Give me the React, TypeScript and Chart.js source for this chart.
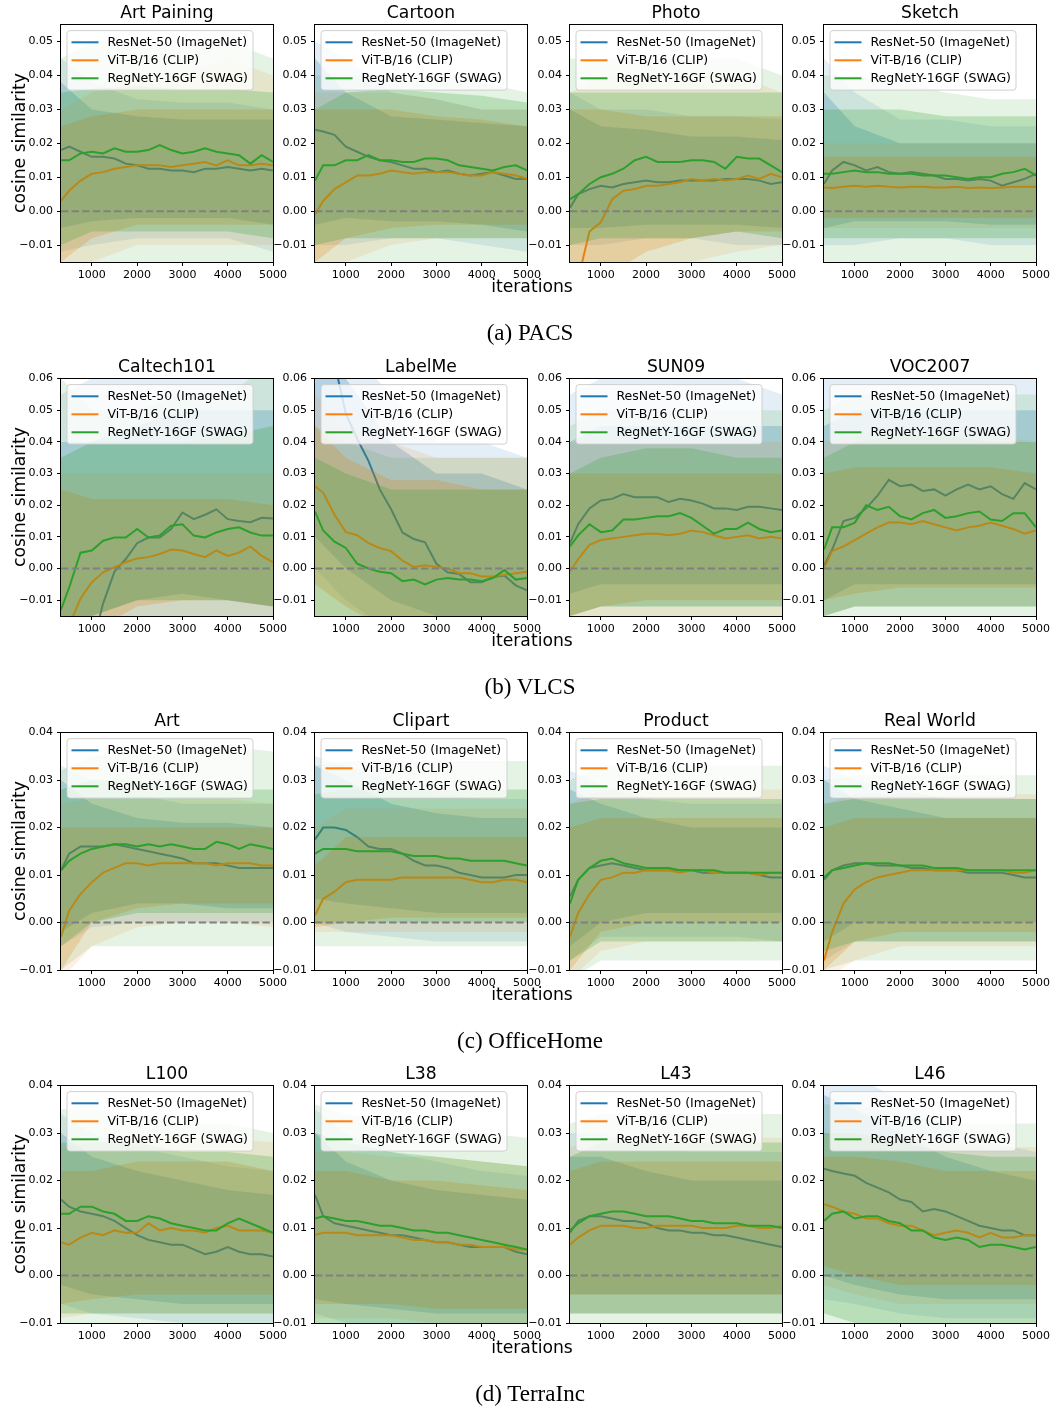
import React, { useEffect, useRef } from 'react';
import { Chart, registerables } from 'chart.js';

Chart.register(...registerables);

// ---------- shared axes / labels ----------
const X_SMOOTH = [320, 500, 750, 1000, 1250, 1500, 1750, 2000, 2250, 2500, 2750, 3000, 3250, 3500, 3750, 4000, 4250, 4500, 4750, 5000];
const X_BAND = [320, 1000, 2000, 3000, 4000, 5000];
const X_TICKS = [1000, 2000, 3000, 4000, 5000];
const X_MIN = 320;
const X_MAX = 5000;
const SERIES_NAMES = ['ResNet-50 (ImageNet)', 'ViT-B/16 (CLIP)', 'RegNetY-16GF (SWAG)'];
const SERIES_COLORS = ['#1f77b4', '#ff7f0e', '#2ca02c'];
const SERIES_CORE_FILLS = ['rgba(31,119,180,0.24)', 'rgba(255,127,14,0.24)', 'rgba(44,160,44,0.24)'];
const SERIES_SPIKE_FILLS = ['rgba(31,119,180,0.12)', 'rgba(255,127,14,0.12)', 'rgba(44,160,44,0.12)'];
const ROW_CAPTIONS = ['(a) PACS', '(b) VLCS', '(c) OfficeHome', '(d) TerraInc'];
const ROW_Y_RANGE = [[-0.015, 0.055], [-0.015, 0.06], [-0.01, 0.04], [-0.01, 0.04]];
const ROW_Y_TICKS = [
  [-0.01, 0, 0.01, 0.02, 0.03, 0.04, 0.05],
  [-0.01, 0, 0.01, 0.02, 0.03, 0.04, 0.05, 0.06],
  [-0.01, 0, 0.01, 0.02, 0.03, 0.04],
  [-0.01, 0, 0.01, 0.02, 0.03, 0.04],
];
const Y_LABEL = 'cosine similarity';
const X_LABEL = 'iterations';

// Each panel: smoothed curves (on X_SMOOTH) and noise envelopes (on X_BAND):
// *Lo/*Hi = dense core of the raw noise, *OutLo/*OutHi = extent of the sparse spikes.

// ---------- (a) PACS ----------
const artPainingRes = [0.018, 0.019, 0.0175, 0.016, 0.016, 0.0155, 0.014, 0.0135, 0.0125, 0.0125, 0.012, 0.012, 0.0115, 0.0125, 0.0125, 0.013, 0.0125, 0.012, 0.0125, 0.012];
const artPainingVit = [0.003, 0.006, 0.009, 0.011, 0.0115, 0.0125, 0.013, 0.0135, 0.0135, 0.0135, 0.013, 0.0135, 0.014, 0.0145, 0.0135, 0.015, 0.0135, 0.0135, 0.014, 0.0135];
const artPainingReg = [0.015, 0.015, 0.017, 0.0175, 0.017, 0.0185, 0.0175, 0.0175, 0.018, 0.0195, 0.018, 0.017, 0.0175, 0.0185, 0.0175, 0.017, 0.0165, 0.014, 0.0165, 0.0145];
const artPainingResLo = [-0.005, -0.003, -0.002, -0.002, -0.002, -0.004];
const artPainingResHi = [0.038, 0.03, 0.028, 0.027, 0.027, 0.027];
const artPainingVitLo = [-0.015, -0.008, -0.004, -0.004, -0.004, -0.004];
const artPainingVitHi = [0.025, 0.028, 0.03, 0.03, 0.03, 0.03];
const artPainingRegLo = [-0.01, -0.006, -0.006, -0.006, -0.006, -0.008];
const artPainingRegHi = [0.035, 0.036, 0.037, 0.036, 0.036, 0.035];
const artPainingResOutLo = [-0.012, -0.01, -0.008, -0.008, -0.008, -0.012];
const artPainingResOutHi = [0.045, 0.038, 0.033, 0.032, 0.032, 0.03];
const artPainingVitOutLo = [-0.02, -0.015, -0.01, -0.01, -0.01, -0.01];
const artPainingVitOutHi = [0.03, 0.035, 0.04, 0.04, 0.045, 0.04];
const artPainingRegOutLo = [-0.02, -0.015, -0.015, -0.015, -0.015, -0.015];
const artPainingRegOutHi = [0.045, 0.05, 0.05, 0.05, 0.05, 0.045];

const cartoonRes = [0.024, 0.0235, 0.0225, 0.019, 0.0175, 0.016, 0.015, 0.0145, 0.0135, 0.0125, 0.0125, 0.0115, 0.012, 0.011, 0.0105, 0.011, 0.0115, 0.0105, 0.0095, 0.0095];
const cartoonVit = [-0.001, 0.003, 0.0065, 0.0085, 0.0105, 0.0105, 0.011, 0.012, 0.0115, 0.011, 0.0115, 0.0115, 0.0115, 0.011, 0.0105, 0.0105, 0.0115, 0.011, 0.0105, 0.0095];
const cartoonReg = [0.009, 0.0135, 0.0135, 0.015, 0.015, 0.0165, 0.015, 0.015, 0.0145, 0.0145, 0.0155, 0.0155, 0.015, 0.0135, 0.013, 0.0125, 0.012, 0.013, 0.0135, 0.012];
const cartoonResLo = [-0.004, -0.002, -0.003, -0.003, -0.004, -0.006];
const cartoonResHi = [0.045, 0.035, 0.028, 0.027, 0.026, 0.025];
const cartoonVitLo = [-0.015, -0.008, -0.005, -0.004, -0.004, -0.004];
const cartoonVitHi = [0.03, 0.03, 0.03, 0.028, 0.027, 0.025];
const cartoonRegLo = [-0.01, -0.008, -0.008, -0.008, -0.008, -0.008];
const cartoonRegHi = [0.03, 0.035, 0.036, 0.035, 0.034, 0.032];
const cartoonResOutLo = [-0.01, -0.01, -0.008, -0.008, -0.01, -0.012];
const cartoonResOutHi = [0.05, 0.045, 0.035, 0.033, 0.03, 0.03];
const cartoonVitOutLo = [-0.02, -0.015, -0.01, -0.008, -0.008, -0.008];
const cartoonVitOutHi = [0.035, 0.035, 0.035, 0.033, 0.03, 0.03];
const cartoonRegOutLo = [-0.02, -0.015, -0.015, -0.015, -0.015, -0.015];
const cartoonRegOutHi = [0.04, 0.04, 0.04, 0.04, 0.038, 0.035];

const photoRes = [0.001, 0.005, 0.0065, 0.0075, 0.007, 0.008, 0.0085, 0.009, 0.0085, 0.0085, 0.009, 0.009, 0.009, 0.009, 0.0095, 0.0095, 0.0095, 0.009, 0.008, 0.0085];
const photoVit = [-0.03, -0.02, -0.006, -0.0033, 0.0035, 0.006, 0.0065, 0.0075, 0.0075, 0.008, 0.0085, 0.0095, 0.009, 0.0095, 0.009, 0.0095, 0.0105, 0.0095, 0.011, 0.01];
const photoReg = [0.0035, 0.005, 0.008, 0.01, 0.011, 0.0125, 0.015, 0.016, 0.0145, 0.0145, 0.0145, 0.015, 0.015, 0.0145, 0.0125, 0.016, 0.0155, 0.0155, 0.0135, 0.0115];
const photoResLo = [-0.005, -0.005, -0.004, -0.004, -0.004, -0.005];
const photoResHi = [0.03, 0.025, 0.024, 0.022, 0.022, 0.021];
const photoVitLo = [-0.03, -0.02, -0.012, -0.008, -0.006, -0.006];
const photoVitHi = [0.03, 0.03, 0.028, 0.028, 0.028, 0.028];
const photoRegLo = [-0.01, -0.008, -0.008, -0.008, -0.006, -0.008];
const photoRegHi = [0.035, 0.035, 0.035, 0.035, 0.035, 0.035];
const photoResOutLo = [-0.01, -0.01, -0.008, -0.008, -0.01, -0.01];
const photoResOutHi = [0.035, 0.03, 0.03, 0.028, 0.028, 0.027];
const photoVitOutLo = [-0.03, -0.03, -0.02, -0.015, -0.012, -0.01];
const photoVitOutHi = [0.035, 0.04, 0.04, 0.04, 0.04, 0.035];
const photoRegOutLo = [-0.02, -0.015, -0.015, -0.015, -0.015, -0.015];
const photoRegOutHi = [0.045, 0.045, 0.045, 0.045, 0.045, 0.04];

const sketchRes = [0.008, 0.012, 0.0145, 0.0135, 0.012, 0.013, 0.0115, 0.011, 0.0115, 0.011, 0.0105, 0.0095, 0.0095, 0.009, 0.0095, 0.009, 0.0075, 0.0085, 0.0095, 0.011];
const sketchVit = [0.007, 0.0068, 0.0072, 0.0075, 0.0072, 0.0075, 0.0072, 0.007, 0.0072, 0.0072, 0.007, 0.007, 0.0072, 0.0068, 0.007, 0.0068, 0.007, 0.0072, 0.0072, 0.0072];
const sketchReg = [0.011, 0.011, 0.0115, 0.012, 0.0115, 0.0115, 0.011, 0.011, 0.011, 0.0105, 0.0105, 0.0105, 0.01, 0.0095, 0.01, 0.01, 0.011, 0.0115, 0.0125, 0.0105];
const sketchResLo = [-0.005, -0.003, -0.003, -0.003, -0.004, -0.004];
const sketchResHi = [0.035, 0.025, 0.02, 0.02, 0.02, 0.02];
const sketchVitLo = [-0.002, -0.002, -0.002, -0.002, -0.002, -0.002];
const sketchVitHi = [0.016, 0.016, 0.016, 0.016, 0.016, 0.016];
const sketchRegLo = [-0.008, -0.008, -0.008, -0.008, -0.008, -0.008];
const sketchRegHi = [0.03, 0.03, 0.03, 0.028, 0.028, 0.028];
const sketchResOutLo = [-0.01, -0.01, -0.008, -0.008, -0.01, -0.01];
const sketchResOutHi = [0.045, 0.035, 0.027, 0.027, 0.025, 0.025];
const sketchVitOutLo = [-0.005, -0.005, -0.005, -0.005, -0.005, -0.005];
const sketchVitOutHi = [0.02, 0.02, 0.02, 0.02, 0.02, 0.02];
const sketchRegOutLo = [-0.015, -0.015, -0.015, -0.015, -0.015, -0.015];
const sketchRegOutHi = [0.04, 0.04, 0.038, 0.035, 0.033, 0.033];

// ---------- (b) VLCS ----------
const caltechRes = [-0.06, -0.05, -0.038, -0.025, -0.011, -0.001, 0.003, 0.008, 0.0098, 0.0098, 0.0125, 0.0177, 0.0156, 0.017, 0.0187, 0.0156, 0.015, 0.0146, 0.016, 0.0158];
const caltechVit = [-0.025, -0.018, -0.0095, -0.0043, -0.0012, 0.0004, 0.002, 0.0032, 0.0036, 0.0046, 0.006, 0.0057, 0.0046, 0.0036, 0.0057, 0.004, 0.005, 0.007, 0.004, 0.002];
const caltechReg = [-0.013, -0.006, 0.005, 0.0057, 0.0088, 0.0098, 0.0098, 0.0125, 0.0098, 0.0104, 0.0135, 0.014, 0.0104, 0.0098, 0.0114, 0.0125, 0.013, 0.0114, 0.0104, 0.0104];
const caltechResLo = [-0.02, -0.015, -0.01, -0.008, -0.01, -0.012];
const caltechResHi = [0.04, 0.04, 0.045, 0.05, 0.05, 0.05];
const caltechVitLo = [-0.03, -0.02, -0.012, -0.01, -0.01, -0.012];
const caltechVitHi = [0.025, 0.022, 0.022, 0.022, 0.022, 0.02];
const caltechRegLo = [-0.03, -0.015, -0.01, -0.01, -0.01, -0.012];
const caltechRegHi = [0.035, 0.04, 0.04, 0.04, 0.042, 0.045];
const caltechResOutLo = [-0.02, -0.02, -0.015, -0.015, -0.015, -0.015];
const caltechResOutHi = [0.055, 0.06, 0.06, 0.065, 0.065, 0.065];
const caltechVitOutLo = [-0.03, -0.025, -0.02, -0.02, -0.02, -0.02];
const caltechVitOutHi = [0.03, 0.03, 0.03, 0.03, 0.03, 0.03];
const caltechRegOutLo = [-0.03, -0.02, -0.015, -0.015, -0.015, -0.015];
const caltechRegOutHi = [0.06, 0.05, 0.05, 0.055, 0.055, 0.065];

const labelmeRes = [0.08, 0.075, 0.065, 0.049, 0.041, 0.034, 0.025, 0.0187, 0.0114, 0.0093, 0.0083, 0.0015, -0.0012, -0.0017, -0.0043, -0.0043, -0.0027, -0.0022, -0.0053, -0.0069];
const labelmeVit = [0.026, 0.024, 0.017, 0.0115, 0.0105, 0.008, 0.0065, 0.0055, 0.0025, 0.0005, 0.001, 0.0005, 0.0, -0.0015, -0.0015, -0.0025, -0.0025, -0.002, -0.0015, -0.001];
const labelmeReg = [0.018, 0.012, 0.0085, 0.0065, 0.0015, 0.0, -0.001, -0.0015, -0.004, -0.0035, -0.005, -0.0035, -0.003, -0.0035, -0.0035, -0.004, -0.003, -0.0005, -0.0035, -0.003];
const labelmeResLo = [0.01, 0.0, -0.01, -0.015, -0.02, -0.02];
const labelmeResHi = [0.065, 0.06, 0.04, 0.03, 0.03, 0.025];
const labelmeVitLo = [-0.005, -0.012, -0.02, -0.02, -0.02, -0.02];
const labelmeVitHi = [0.045, 0.035, 0.028, 0.028, 0.025, 0.025];
const labelmeRegLo = [-0.02, -0.02, -0.02, -0.02, -0.02, -0.02];
const labelmeRegHi = [0.035, 0.03, 0.025, 0.025, 0.025, 0.025];
const labelmeResOutLo = [0.0, -0.01, -0.02, -0.02, -0.02, -0.02];
const labelmeResOutHi = [0.08, 0.07, 0.055, 0.04, 0.04, 0.035];
const labelmeVitOutLo = [-0.015, -0.02, -0.02, -0.02, -0.02, -0.02];
const labelmeVitOutHi = [0.055, 0.045, 0.04, 0.035, 0.035, 0.035];
const labelmeRegOutLo = [-0.02, -0.02, -0.02, -0.02, -0.02, -0.02];
const labelmeRegOutHi = [0.045, 0.04, 0.035, 0.035, 0.035, 0.035];

const sun09Res = [0.008, 0.014, 0.019, 0.0215, 0.022, 0.0235, 0.0225, 0.0225, 0.0225, 0.021, 0.022, 0.0215, 0.0205, 0.019, 0.019, 0.0185, 0.0195, 0.0195, 0.019, 0.0185];
const sun09Vit = [-0.001, 0.003, 0.0075, 0.009, 0.0095, 0.01, 0.0105, 0.011, 0.011, 0.0105, 0.011, 0.012, 0.0115, 0.0105, 0.0095, 0.01, 0.0105, 0.0095, 0.01, 0.0095];
const sun09Reg = [0.007, 0.0105, 0.014, 0.0115, 0.012, 0.0155, 0.0155, 0.016, 0.0165, 0.0165, 0.0175, 0.016, 0.0135, 0.011, 0.0125, 0.0125, 0.0145, 0.0125, 0.0115, 0.012];
const sun09ResLo = [-0.008, -0.005, -0.005, -0.005, -0.005, -0.005];
const sun09ResHi = [0.04, 0.045, 0.045, 0.045, 0.045, 0.045];
const sun09VitLo = [-0.015, -0.012, -0.01, -0.01, -0.01, -0.01];
const sun09VitHi = [0.03, 0.03, 0.03, 0.03, 0.03, 0.03];
const sun09RegLo = [-0.015, -0.012, -0.012, -0.012, -0.012, -0.012];
const sun09RegHi = [0.03, 0.035, 0.038, 0.038, 0.035, 0.035];
const sun09ResOutLo = [-0.015, -0.012, -0.012, -0.012, -0.012, -0.012];
const sun09ResOutHi = [0.055, 0.06, 0.06, 0.06, 0.06, 0.055];
const sun09VitOutLo = [-0.02, -0.018, -0.015, -0.015, -0.015, -0.015];
const sun09VitOutHi = [0.04, 0.04, 0.04, 0.04, 0.04, 0.04];
const sun09RegOutLo = [-0.02, -0.02, -0.02, -0.02, -0.02, -0.02];
const sun09RegOutHi = [0.045, 0.05, 0.05, 0.05, 0.05, 0.05];

const voc2007Res = [0.001, 0.006, 0.015, 0.016, 0.019, 0.023, 0.028, 0.026, 0.0265, 0.0245, 0.025, 0.023, 0.025, 0.0265, 0.025, 0.026, 0.0235, 0.022, 0.027, 0.025];
const voc2007Vit = [0.0, 0.0055, 0.007, 0.009, 0.011, 0.013, 0.0145, 0.0145, 0.014, 0.015, 0.014, 0.013, 0.012, 0.013, 0.0135, 0.0145, 0.0135, 0.0125, 0.011, 0.012];
const voc2007Reg = [0.006, 0.013, 0.013, 0.0145, 0.02, 0.0185, 0.0195, 0.0165, 0.0155, 0.0175, 0.0185, 0.016, 0.0165, 0.0175, 0.018, 0.0155, 0.015, 0.0175, 0.0175, 0.013];
const voc2007ResLo = [-0.01, -0.005, -0.005, -0.005, -0.005, -0.005];
const voc2007ResHi = [0.045, 0.05, 0.05, 0.05, 0.05, 0.05];
const voc2007VitLo = [-0.01, -0.008, -0.006, -0.006, -0.006, -0.006];
const voc2007VitHi = [0.03, 0.032, 0.032, 0.032, 0.032, 0.03];
const voc2007RegLo = [-0.015, -0.012, -0.012, -0.012, -0.012, -0.012];
const voc2007RegHi = [0.035, 0.04, 0.042, 0.042, 0.04, 0.04];
const voc2007ResOutLo = [-0.015, -0.012, -0.012, -0.012, -0.012, -0.012];
const voc2007ResOutHi = [0.065, 0.065, 0.065, 0.065, 0.065, 0.065];
const voc2007VitOutLo = [-0.015, -0.012, -0.012, -0.012, -0.012, -0.012];
const voc2007VitOutHi = [0.04, 0.042, 0.042, 0.042, 0.042, 0.04];
const voc2007RegOutLo = [-0.02, -0.02, -0.02, -0.02, -0.02, -0.02];
const voc2007RegOutHi = [0.05, 0.055, 0.055, 0.055, 0.055, 0.055];

// ---------- (c) OfficeHome ----------
const artRes = [0.011, 0.0145, 0.016, 0.016, 0.016, 0.0165, 0.016, 0.0155, 0.015, 0.0145, 0.014, 0.0135, 0.0125, 0.0125, 0.0125, 0.012, 0.0115, 0.0115, 0.0115, 0.0115];
const artVit = [-0.003, 0.0025, 0.006, 0.0085, 0.0105, 0.0115, 0.0125, 0.0125, 0.012, 0.0125, 0.0125, 0.0125, 0.0125, 0.0125, 0.012, 0.0125, 0.0125, 0.0125, 0.012, 0.012];
const artReg = [0.011, 0.013, 0.0145, 0.0155, 0.016, 0.0165, 0.0165, 0.016, 0.0165, 0.016, 0.0165, 0.016, 0.0155, 0.0155, 0.017, 0.0165, 0.0155, 0.0165, 0.016, 0.0155];
const artResLo = [-0.002, 0.002, 0.004, 0.004, 0.003, 0.003];
const artResHi = [0.03, 0.025, 0.022, 0.021, 0.021, 0.02];
const artVitLo = [-0.01, 0.0, 0.003, 0.004, 0.004, 0.004];
const artVitHi = [0.02, 0.02, 0.02, 0.02, 0.02, 0.02];
const artRegLo = [-0.005, 0.0, 0.002, 0.002, 0.002, 0.002];
const artRegHi = [0.028, 0.03, 0.03, 0.028, 0.028, 0.028];
const artResOutLo = [-0.005, -0.001, 0.0, 0.0, 0.0, 0.0];
const artResOutHi = [0.033, 0.03, 0.027, 0.025, 0.025, 0.025];
const artVitOutLo = [-0.012, -0.005, -0.001, 0.0, 0.0, -0.001];
const artVitOutHi = [0.025, 0.026, 0.026, 0.026, 0.026, 0.025];
const artRegOutLo = [-0.01, -0.005, -0.005, -0.005, -0.005, -0.005];
const artRegOutHi = [0.032, 0.035, 0.036, 0.037, 0.037, 0.036];

const clipartRes = [0.0175, 0.02, 0.02, 0.0195, 0.018, 0.016, 0.0155, 0.0155, 0.0145, 0.013, 0.012, 0.012, 0.0115, 0.0105, 0.01, 0.0095, 0.0095, 0.0095, 0.01, 0.01];
const clipartVit = [0.0015, 0.005, 0.0065, 0.0085, 0.009, 0.009, 0.009, 0.009, 0.0095, 0.0095, 0.0095, 0.0095, 0.0095, 0.0095, 0.009, 0.0085, 0.0085, 0.009, 0.009, 0.0085];
const clipartReg = [0.0145, 0.0155, 0.0155, 0.0155, 0.015, 0.015, 0.015, 0.015, 0.0145, 0.014, 0.014, 0.014, 0.0135, 0.0135, 0.013, 0.013, 0.013, 0.013, 0.0125, 0.012];
const clipartResLo = [0.005, 0.004, 0.003, 0.002, 0.002, 0.002];
const clipartResHi = [0.033, 0.03, 0.025, 0.023, 0.022, 0.022];
const clipartVitLo = [-0.001, 0.0, 0.001, 0.001, 0.001, 0.001];
const clipartVitHi = [0.012, 0.018, 0.018, 0.018, 0.018, 0.018];
const clipartRegLo = [0.0, 0.0, 0.0, 0.0, 0.0, 0.0];
const clipartRegHi = [0.027, 0.028, 0.028, 0.028, 0.028, 0.028];
const clipartResOutLo = [0.0, -0.002, -0.003, -0.004, -0.004, -0.004];
const clipartResOutHi = [0.035, 0.033, 0.03, 0.027, 0.026, 0.026];
const clipartVitOutLo = [-0.002, -0.002, -0.002, -0.002, -0.002, -0.002];
const clipartVitOutHi = [0.02, 0.024, 0.024, 0.024, 0.024, 0.024];
const clipartRegOutLo = [-0.005, -0.005, -0.005, -0.005, -0.005, -0.005];
const clipartRegOutHi = [0.033, 0.034, 0.034, 0.034, 0.034, 0.034];

const productRes = [0.0055, 0.009, 0.0115, 0.012, 0.0125, 0.012, 0.0115, 0.011, 0.011, 0.011, 0.011, 0.011, 0.0105, 0.0105, 0.0105, 0.0105, 0.0105, 0.01, 0.0095, 0.0095];
const productVit = [-0.003, 0.002, 0.006, 0.009, 0.0095, 0.0105, 0.0105, 0.011, 0.011, 0.011, 0.0105, 0.011, 0.011, 0.0105, 0.0105, 0.0105, 0.0105, 0.01, 0.0105, 0.0105];
const productReg = [0.004, 0.009, 0.0115, 0.013, 0.0135, 0.0125, 0.012, 0.0115, 0.0115, 0.0115, 0.011, 0.011, 0.011, 0.011, 0.0105, 0.0105, 0.0105, 0.0105, 0.0105, 0.0105];
const productResLo = [-0.005, 0.0, 0.002, 0.002, 0.002, 0.002];
const productResHi = [0.028, 0.025, 0.022, 0.02, 0.02, 0.02];
const productVitLo = [-0.01, -0.002, 0.0, 0.0, 0.0, 0.0];
const productVitHi = [0.02, 0.022, 0.022, 0.022, 0.022, 0.022];
const productRegLo = [-0.008, -0.004, -0.004, -0.004, -0.004, -0.004];
const productRegHi = [0.025, 0.026, 0.026, 0.026, 0.026, 0.026];
const productResOutLo = [-0.008, -0.003, -0.003, -0.003, -0.003, -0.004];
const productResOutHi = [0.032, 0.029, 0.026, 0.025, 0.025, 0.025];
const productVitOutLo = [-0.012, -0.006, -0.004, -0.004, -0.004, -0.004];
const productVitOutHi = [0.025, 0.028, 0.028, 0.028, 0.028, 0.028];
const productRegOutLo = [-0.012, -0.008, -0.008, -0.008, -0.008, -0.008];
const productRegOutHi = [0.03, 0.033, 0.033, 0.033, 0.033, 0.033];

const realWorldRes = [0.009, 0.011, 0.012, 0.0125, 0.0125, 0.012, 0.012, 0.012, 0.0115, 0.0115, 0.011, 0.011, 0.011, 0.0105, 0.0105, 0.0105, 0.0105, 0.01, 0.0095, 0.0095];
const realWorldVit = [-0.008, -0.002, 0.004, 0.007, 0.0085, 0.0095, 0.01, 0.0105, 0.011, 0.011, 0.011, 0.011, 0.011, 0.011, 0.011, 0.011, 0.011, 0.0105, 0.0105, 0.011];
const realWorldReg = [0.0095, 0.011, 0.0115, 0.012, 0.0125, 0.0125, 0.0125, 0.012, 0.012, 0.012, 0.0115, 0.0115, 0.0115, 0.011, 0.011, 0.011, 0.011, 0.011, 0.011, 0.011];
const realWorldResLo = [-0.004, 0.0, 0.0, 0.0, 0.0, 0.0];
const realWorldResHi = [0.03, 0.026, 0.024, 0.022, 0.022, 0.022];
const realWorldVitLo = [-0.01, -0.004, -0.002, -0.002, -0.002, -0.002];
const realWorldVitHi = [0.02, 0.022, 0.022, 0.022, 0.022, 0.022];
const realWorldRegLo = [-0.006, -0.004, -0.004, -0.004, -0.004, -0.004];
const realWorldRegHi = [0.025, 0.026, 0.026, 0.026, 0.026, 0.026];
const realWorldResOutLo = [-0.008, -0.004, -0.004, -0.004, -0.004, -0.004];
const realWorldResOutHi = [0.033, 0.03, 0.028, 0.026, 0.026, 0.026];
const realWorldVitOutLo = [-0.012, -0.008, -0.005, -0.005, -0.005, -0.005];
const realWorldVitOutHi = [0.025, 0.027, 0.027, 0.027, 0.027, 0.027];
const realWorldRegOutLo = [-0.01, -0.008, -0.008, -0.008, -0.008, -0.008];
const realWorldRegOutHi = [0.03, 0.031, 0.031, 0.031, 0.031, 0.031];

// ---------- (d) TerraInc ----------
const l100Res = [0.016, 0.0145, 0.0135, 0.013, 0.0125, 0.0115, 0.01, 0.0085, 0.0075, 0.007, 0.0065, 0.0065, 0.0055, 0.0045, 0.005, 0.006, 0.005, 0.0045, 0.0045, 0.004];
const l100Vit = [0.007, 0.0065, 0.008, 0.009, 0.0085, 0.0095, 0.009, 0.009, 0.011, 0.0095, 0.01, 0.0095, 0.0095, 0.009, 0.01, 0.0105, 0.0095, 0.0095, 0.0095, 0.009];
const l100Reg = [0.013, 0.013, 0.0145, 0.0145, 0.0135, 0.013, 0.0115, 0.0115, 0.0125, 0.012, 0.011, 0.0105, 0.01, 0.0095, 0.0095, 0.011, 0.012, 0.011, 0.01, 0.009];
const l100ResLo = [-0.002, -0.004, -0.005, -0.006, -0.006, -0.006];
const l100ResHi = [0.03, 0.025, 0.022, 0.02, 0.018, 0.017];
const l100VitLo = [-0.006, -0.005, -0.004, -0.004, -0.004, -0.004];
const l100VitHi = [0.022, 0.022, 0.024, 0.024, 0.024, 0.022];
const l100RegLo = [-0.008, -0.008, -0.008, -0.008, -0.008, -0.008];
const l100RegHi = [0.028, 0.028, 0.028, 0.026, 0.026, 0.025];
const l100ResOutLo = [-0.006, -0.008, -0.009, -0.01, -0.01, -0.01];
const l100ResOutHi = [0.034, 0.03, 0.027, 0.025, 0.023, 0.022];
const l100VitOutLo = [-0.009, -0.008, -0.008, -0.008, -0.008, -0.008];
const l100VitOutHi = [0.027, 0.028, 0.029, 0.029, 0.029, 0.028];
const l100RegOutLo = [-0.012, -0.012, -0.012, -0.012, -0.012, -0.012];
const l100RegOutHi = [0.035, 0.035, 0.034, 0.032, 0.032, 0.03];

const l38Res = [0.017, 0.0125, 0.011, 0.0105, 0.01, 0.0095, 0.009, 0.0085, 0.0085, 0.008, 0.0075, 0.007, 0.007, 0.0065, 0.006, 0.006, 0.006, 0.006, 0.005, 0.0045];
const l38Vit = [0.0085, 0.009, 0.009, 0.009, 0.0085, 0.0085, 0.0085, 0.0085, 0.008, 0.0075, 0.0075, 0.007, 0.007, 0.0065, 0.0065, 0.006, 0.006, 0.006, 0.0055, 0.0055];
const l38Reg = [0.012, 0.0125, 0.012, 0.0115, 0.0115, 0.011, 0.0105, 0.0105, 0.01, 0.0095, 0.0095, 0.009, 0.009, 0.0085, 0.008, 0.0075, 0.007, 0.0065, 0.006, 0.0055];
const l38ResLo = [-0.005, -0.006, -0.007, -0.008, -0.008, -0.008];
const l38ResHi = [0.03, 0.024, 0.02, 0.018, 0.017, 0.016];
const l38VitLo = [-0.006, -0.006, -0.006, -0.007, -0.007, -0.007];
const l38VitHi = [0.022, 0.022, 0.02, 0.02, 0.019, 0.018];
const l38RegLo = [-0.01, -0.01, -0.01, -0.01, -0.01, -0.01];
const l38RegHi = [0.03, 0.028, 0.026, 0.025, 0.024, 0.023];
const l38ResOutLo = [-0.008, -0.01, -0.01, -0.011, -0.011, -0.011];
const l38ResOutHi = [0.035, 0.03, 0.026, 0.024, 0.022, 0.021];
const l38VitOutLo = [-0.009, -0.009, -0.009, -0.01, -0.01, -0.01];
const l38VitOutHi = [0.026, 0.026, 0.025, 0.025, 0.024, 0.023];
const l38RegOutLo = [-0.014, -0.014, -0.014, -0.014, -0.014, -0.014];
const l38RegOutHi = [0.036, 0.034, 0.032, 0.031, 0.03, 0.029];

const l43Res = [0.009, 0.0115, 0.0125, 0.0125, 0.012, 0.0115, 0.0115, 0.011, 0.01, 0.0095, 0.0095, 0.009, 0.009, 0.0085, 0.0085, 0.008, 0.0075, 0.007, 0.0065, 0.006];
const l43Vit = [0.0065, 0.008, 0.0095, 0.0105, 0.0105, 0.0105, 0.01, 0.01, 0.0105, 0.0105, 0.0105, 0.0105, 0.01, 0.01, 0.01, 0.0105, 0.0105, 0.01, 0.01, 0.0105];
const l43Reg = [0.0095, 0.011, 0.0125, 0.013, 0.0135, 0.0135, 0.013, 0.0125, 0.0125, 0.0125, 0.012, 0.0115, 0.0115, 0.011, 0.011, 0.011, 0.0105, 0.0105, 0.0105, 0.01];
const l43ResLo = [-0.004, -0.004, -0.004, -0.004, -0.004, -0.004];
const l43ResHi = [0.025, 0.025, 0.022, 0.02, 0.02, 0.02];
const l43VitLo = [-0.004, -0.004, -0.004, -0.004, -0.004, -0.004];
const l43VitHi = [0.022, 0.024, 0.024, 0.024, 0.024, 0.024];
const l43RegLo = [-0.008, -0.008, -0.008, -0.008, -0.008, -0.008];
const l43RegHi = [0.025, 0.028, 0.028, 0.028, 0.028, 0.028];
const l43ResOutLo = [-0.008, -0.008, -0.008, -0.008, -0.008, -0.008];
const l43ResOutHi = [0.03, 0.03, 0.028, 0.026, 0.026, 0.026];
const l43VitOutLo = [-0.008, -0.008, -0.008, -0.008, -0.008, -0.008];
const l43VitOutHi = [0.027, 0.029, 0.029, 0.029, 0.029, 0.029];
const l43RegOutLo = [-0.012, -0.012, -0.012, -0.012, -0.012, -0.012];
const l43RegOutHi = [0.032, 0.034, 0.034, 0.034, 0.034, 0.034];

const l46Res = [0.0225, 0.022, 0.0215, 0.021, 0.0195, 0.0185, 0.0175, 0.016, 0.0155, 0.0135, 0.014, 0.0135, 0.0125, 0.0115, 0.0105, 0.01, 0.0095, 0.0095, 0.0085, 0.0085];
const l46Vit = [0.015, 0.0145, 0.0135, 0.013, 0.012, 0.012, 0.011, 0.0105, 0.0105, 0.0095, 0.0085, 0.009, 0.0095, 0.009, 0.008, 0.009, 0.008, 0.008, 0.0085, 0.0085];
const l46Reg = [0.0115, 0.013, 0.0135, 0.012, 0.0125, 0.0125, 0.0115, 0.011, 0.0095, 0.0095, 0.008, 0.0075, 0.008, 0.0075, 0.006, 0.0065, 0.0065, 0.006, 0.0055, 0.006];
const l46ResLo = [0.0, -0.002, -0.004, -0.005, -0.005, -0.005];
const l46ResHi = [0.038, 0.035, 0.03, 0.025, 0.022, 0.02];
const l46VitLo = [0.002, 0.0, -0.002, -0.002, -0.002, -0.002];
const l46VitHi = [0.025, 0.025, 0.024, 0.022, 0.022, 0.022];
const l46RegLo = [-0.008, -0.01, -0.01, -0.01, -0.01, -0.01];
const l46RegHi = [0.03, 0.03, 0.028, 0.026, 0.025, 0.025];
const l46ResOutLo = [-0.005, -0.006, -0.008, -0.009, -0.009, -0.009];
const l46ResOutHi = [0.045, 0.042, 0.037, 0.032, 0.028, 0.026];
const l46VitOutLo = [-0.002, -0.004, -0.006, -0.006, -0.006, -0.006];
const l46VitOutHi = [0.03, 0.03, 0.029, 0.028, 0.027, 0.027];
const l46RegOutLo = [-0.012, -0.014, -0.014, -0.014, -0.014, -0.014];
const l46RegOutHi = [0.036, 0.036, 0.034, 0.032, 0.032, 0.032];

type PanelSpec = {
  title: string; row: number; col: number;
  lines: number[][]; los: number[][]; his: number[][]; outLos: number[][]; outHis: number[][];
};

const PANELS: PanelSpec[] = [
  { title: 'Art Paining', row: 0, col: 0, lines: [artPainingRes, artPainingVit, artPainingReg], los: [artPainingResLo, artPainingVitLo, artPainingRegLo], his: [artPainingResHi, artPainingVitHi, artPainingRegHi], outLos: [artPainingResOutLo, artPainingVitOutLo, artPainingRegOutLo], outHis: [artPainingResOutHi, artPainingVitOutHi, artPainingRegOutHi] },
  { title: 'Cartoon', row: 0, col: 1, lines: [cartoonRes, cartoonVit, cartoonReg], los: [cartoonResLo, cartoonVitLo, cartoonRegLo], his: [cartoonResHi, cartoonVitHi, cartoonRegHi], outLos: [cartoonResOutLo, cartoonVitOutLo, cartoonRegOutLo], outHis: [cartoonResOutHi, cartoonVitOutHi, cartoonRegOutHi] },
  { title: 'Photo', row: 0, col: 2, lines: [photoRes, photoVit, photoReg], los: [photoResLo, photoVitLo, photoRegLo], his: [photoResHi, photoVitHi, photoRegHi], outLos: [photoResOutLo, photoVitOutLo, photoRegOutLo], outHis: [photoResOutHi, photoVitOutHi, photoRegOutHi] },
  { title: 'Sketch', row: 0, col: 3, lines: [sketchRes, sketchVit, sketchReg], los: [sketchResLo, sketchVitLo, sketchRegLo], his: [sketchResHi, sketchVitHi, sketchRegHi], outLos: [sketchResOutLo, sketchVitOutLo, sketchRegOutLo], outHis: [sketchResOutHi, sketchVitOutHi, sketchRegOutHi] },
  { title: 'Caltech101', row: 1, col: 0, lines: [caltechRes, caltechVit, caltechReg], los: [caltechResLo, caltechVitLo, caltechRegLo], his: [caltechResHi, caltechVitHi, caltechRegHi], outLos: [caltechResOutLo, caltechVitOutLo, caltechRegOutLo], outHis: [caltechResOutHi, caltechVitOutHi, caltechRegOutHi] },
  { title: 'LabelMe', row: 1, col: 1, lines: [labelmeRes, labelmeVit, labelmeReg], los: [labelmeResLo, labelmeVitLo, labelmeRegLo], his: [labelmeResHi, labelmeVitHi, labelmeRegHi], outLos: [labelmeResOutLo, labelmeVitOutLo, labelmeRegOutLo], outHis: [labelmeResOutHi, labelmeVitOutHi, labelmeRegOutHi] },
  { title: 'SUN09', row: 1, col: 2, lines: [sun09Res, sun09Vit, sun09Reg], los: [sun09ResLo, sun09VitLo, sun09RegLo], his: [sun09ResHi, sun09VitHi, sun09RegHi], outLos: [sun09ResOutLo, sun09VitOutLo, sun09RegOutLo], outHis: [sun09ResOutHi, sun09VitOutHi, sun09RegOutHi] },
  { title: 'VOC2007', row: 1, col: 3, lines: [voc2007Res, voc2007Vit, voc2007Reg], los: [voc2007ResLo, voc2007VitLo, voc2007RegLo], his: [voc2007ResHi, voc2007VitHi, voc2007RegHi], outLos: [voc2007ResOutLo, voc2007VitOutLo, voc2007RegOutLo], outHis: [voc2007ResOutHi, voc2007VitOutHi, voc2007RegOutHi] },
  { title: 'Art', row: 2, col: 0, lines: [artRes, artVit, artReg], los: [artResLo, artVitLo, artRegLo], his: [artResHi, artVitHi, artRegHi], outLos: [artResOutLo, artVitOutLo, artRegOutLo], outHis: [artResOutHi, artVitOutHi, artRegOutHi] },
  { title: 'Clipart', row: 2, col: 1, lines: [clipartRes, clipartVit, clipartReg], los: [clipartResLo, clipartVitLo, clipartRegLo], his: [clipartResHi, clipartVitHi, clipartRegHi], outLos: [clipartResOutLo, clipartVitOutLo, clipartRegOutLo], outHis: [clipartResOutHi, clipartVitOutHi, clipartRegOutHi] },
  { title: 'Product', row: 2, col: 2, lines: [productRes, productVit, productReg], los: [productResLo, productVitLo, productRegLo], his: [productResHi, productVitHi, productRegHi], outLos: [productResOutLo, productVitOutLo, productRegOutLo], outHis: [productResOutHi, productVitOutHi, productRegOutHi] },
  { title: 'Real World', row: 2, col: 3, lines: [realWorldRes, realWorldVit, realWorldReg], los: [realWorldResLo, realWorldVitLo, realWorldRegLo], his: [realWorldResHi, realWorldVitHi, realWorldRegHi], outLos: [realWorldResOutLo, realWorldVitOutLo, realWorldRegOutLo], outHis: [realWorldResOutHi, realWorldVitOutHi, realWorldRegOutHi] },
  { title: 'L100', row: 3, col: 0, lines: [l100Res, l100Vit, l100Reg], los: [l100ResLo, l100VitLo, l100RegLo], his: [l100ResHi, l100VitHi, l100RegHi], outLos: [l100ResOutLo, l100VitOutLo, l100RegOutLo], outHis: [l100ResOutHi, l100VitOutHi, l100RegOutHi] },
  { title: 'L38', row: 3, col: 1, lines: [l38Res, l38Vit, l38Reg], los: [l38ResLo, l38VitLo, l38RegLo], his: [l38ResHi, l38VitHi, l38RegHi], outLos: [l38ResOutLo, l38VitOutLo, l38RegOutLo], outHis: [l38ResOutHi, l38VitOutHi, l38RegOutHi] },
  { title: 'L43', row: 3, col: 2, lines: [l43Res, l43Vit, l43Reg], los: [l43ResLo, l43VitLo, l43RegLo], his: [l43ResHi, l43VitHi, l43RegHi], outLos: [l43ResOutLo, l43VitOutLo, l43RegOutLo], outHis: [l43ResOutHi, l43VitOutHi, l43RegOutHi] },
  { title: 'L46', row: 3, col: 3, lines: [l46Res, l46Vit, l46Reg], los: [l46ResLo, l46VitLo, l46RegLo], his: [l46ResHi, l46VitHi, l46RegHi], outLos: [l46ResOutLo, l46VitOutLo, l46RegOutLo], outHis: [l46ResOutHi, l46VitOutHi, l46RegOutHi] },
];

// ---------- layout ----------
const FIG_W = 1052;
const FIG_H = 1407;
const COL_LEFT = [61, 315, 570, 824];
const ROW_TOP = [24, 378, 732, 1085];
const PLOT_W = 212;
const PLOT_H = 238;
const AXIS_W = 50;
const AXIS_H = 26;
const PAD_T = 10;
const PAD_R = 24;
const SANS = '"DejaVu Sans", sans-serif';
const SERIF = '"Liberation Serif", "Times New Roman", serif';

Chart.defaults.font.family = SANS;
Chart.defaults.color = '#000';

const fmtY = (v: number) => (v < -1e-9 ? '\u2212' : '') + Math.abs(v).toFixed(2);

const framePlugin = {
  id: 'mplFrame',
  afterDatasetsDraw(chart: any) {
    const { ctx, chartArea: a } = chart;
    ctx.save();
    ctx.strokeStyle = '#000';
    ctx.lineWidth = 1;
    const l = Math.round(a.left), t = Math.round(a.top);
    const r = Math.round(a.right), b = Math.round(a.bottom);
    ctx.strokeRect(l - 0.5, t - 0.5, r - l + 1, b - t + 1);
    ctx.restore();
  },
};

const legendPlugin = {
  id: 'mplLegend',
  afterDraw(chart: any) {
    const { ctx, chartArea: a } = chart;
    ctx.save();
    const x = a.left + 6, y = a.top + 6, w = 186, h = 59.5, r = 3;
    ctx.beginPath();
    ctx.moveTo(x + r, y);
    ctx.lineTo(x + w - r, y);
    ctx.quadraticCurveTo(x + w, y, x + w, y + r);
    ctx.lineTo(x + w, y + h - r);
    ctx.quadraticCurveTo(x + w, y + h, x + w - r, y + h);
    ctx.lineTo(x + r, y + h);
    ctx.quadraticCurveTo(x, y + h, x, y + h - r);
    ctx.lineTo(x, y + r);
    ctx.quadraticCurveTo(x, y, x + r, y);
    ctx.closePath();
    ctx.fillStyle = 'rgba(255,255,255,0.8)';
    ctx.fill();
    ctx.strokeStyle = 'rgba(204,204,204,0.9)';
    ctx.lineWidth = 1;
    ctx.stroke();
    ctx.font = '12.5px ' + SANS;
    ctx.textBaseline = 'middle';
    ctx.textAlign = 'left';
    SERIES_NAMES.forEach((name, i) => {
      const yy = a.top + 17.7 + i * 18;
      ctx.beginPath();
      ctx.moveTo(a.left + 10.5, yy);
      ctx.lineTo(a.left + 37.5, yy);
      ctx.strokeStyle = SERIES_COLORS[i];
      ctx.lineWidth = 2;
      ctx.stroke();
      ctx.fillStyle = '#000';
      ctx.fillText(name, a.left + 46.5, yy + 0.5);
    });
    ctx.restore();
  },
};

const bandPair = (lo: number[], hi: number[], fillColor: string, order: number, name: string) => [
  {
    label: name + ' lo',
    data: X_BAND.map((x, k) => ({ x, y: lo[k] })),
    borderColor: 'transparent', borderWidth: 0, pointRadius: 0, fill: false,
    order: order + 1, clip: 0,
  },
  {
    label: name + ' hi',
    data: X_BAND.map((x, k) => ({ x, y: hi[k] })),
    borderColor: 'transparent', borderWidth: 0, pointRadius: 0, fill: '-1',
    backgroundColor: fillColor, order, clip: 0,
  },
];

function Panel({ spec }: { spec: PanelSpec }) {
  const ref = useRef<HTMLCanvasElement>(null);
  const cw = AXIS_W + PLOT_W + PAD_R;
  const ch = PAD_T + PLOT_H + AXIS_H;
  useEffect(() => {
    if (!ref.current) return;
    const [ymin, ymax] = ROW_Y_RANGE[spec.row];
    const yTicks = ROW_Y_TICKS[spec.row];
    const datasets: any[] = [];
    for (let i = 0; i < 3; i++) {
      const base = 50 - i * 10; // higher order is painted first
      datasets.push(...bandPair(spec.outLos[i], spec.outHis[i], SERIES_SPIKE_FILLS[i], base - 1, SERIES_NAMES[i] + ' spikes'));
      datasets.push(...bandPair(spec.los[i], spec.his[i], SERIES_CORE_FILLS[i], base - 3, SERIES_NAMES[i] + ' core'));
      datasets.push({
        label: SERIES_NAMES[i],
        data: X_SMOOTH.map((x, k) => ({ x, y: spec.lines[i][k] })),
        borderColor: SERIES_COLORS[i], borderWidth: 2, pointRadius: 0, fill: false,
        tension: 0, order: base - 5, clip: 0,
      });
    }
    datasets.push({
      label: 'zero',
      data: [{ x: X_MIN, y: 0 }, { x: X_MAX, y: 0 }],
      borderColor: '#808080', borderWidth: 2, borderDash: [7.4, 3.2], pointRadius: 0,
      fill: false, order: 0, clip: 0,
    });
    const tickFont = { size: 11, family: SANS };
    const chart = new Chart(ref.current, {
      type: 'line',
      data: { datasets },
      options: {
        responsive: false,
        animation: false,
        devicePixelRatio: 1,
        events: [],
        layout: { padding: { left: 0, top: PAD_T, right: PAD_R, bottom: 0 } },
        plugins: { legend: { display: false }, tooltip: { enabled: false }, title: { display: false } },
        scales: {
          x: {
            type: 'linear', bounds: 'data', min: X_MIN, max: X_MAX,
            afterBuildTicks: (s: any) => { s.ticks = X_TICKS.map((v) => ({ value: v })); },
            afterFit: (s: any) => { s.height = AXIS_H; },
            ticks: { font: tickFont, color: '#000', padding: 3, maxRotation: 0, autoSkip: false, callback: (v: any) => String(v) },
            grid: { display: true, drawOnChartArea: false, drawTicks: true, tickLength: 4, tickColor: '#000', tickWidth: 1 },
            border: { display: false },
          },
          y: {
            type: 'linear', bounds: 'data', min: ymin, max: ymax,
            afterBuildTicks: (s: any) => { s.ticks = yTicks.map((v) => ({ value: v })); },
            afterFit: (s: any) => { s.width = AXIS_W; },
            ticks: { font: tickFont, color: '#000', padding: 4, autoSkip: false, callback: (v: any) => fmtY(Number(v)) },
            grid: { display: true, drawOnChartArea: false, drawTicks: true, tickLength: 4, tickColor: '#000', tickWidth: 1 },
            border: { display: false },
          },
        },
      } as any,
      plugins: [framePlugin, legendPlugin],
    });
    return () => chart.destroy();
  }, [spec]);
  return (
    <canvas
      ref={ref}
      width={cw}
      height={ch}
      style={{ position: 'absolute', left: COL_LEFT[spec.col] - AXIS_W, top: ROW_TOP[spec.row] - PAD_T, width: cw, height: ch }}
    />
  );
}

const centerText = (extra: React.CSSProperties): React.CSSProperties => ({
  position: 'absolute',
  whiteSpace: 'nowrap',
  lineHeight: 1,
  color: '#000',
  transform: 'translate(-50%, -50%)',
  ...extra,
});

export default function App() {
  return (
    <div style={{ position: 'absolute', left: 0, top: 0, width: FIG_W, height: FIG_H, background: '#fff', overflow: 'hidden' }}>
      {PANELS.map((p) => (
        <Panel key={p.title} spec={p} />
      ))}
      {PANELS.map((p) => (
        <div key={'t' + p.title} style={centerText({ left: COL_LEFT[p.col] + PLOT_W / 2, top: ROW_TOP[p.row] - 11.5, fontFamily: SANS, fontSize: 17.2 })}>
          {p.title}
        </div>
      ))}
      {ROW_TOP.map((t, r) => (
        <div key={'yl' + r} style={centerText({ left: 19.5, top: t + PLOT_H / 2, fontFamily: SANS, fontSize: 17.2, transform: 'translate(-50%, -50%) rotate(-90deg)' })}>
          {Y_LABEL}
        </div>
      ))}
      {ROW_TOP.map((t, r) => (
        <div key={'xl' + r} style={centerText({ left: 532, top: t + PLOT_H + 25.3, fontFamily: SANS, fontSize: 17.2 })}>
          {X_LABEL}
        </div>
      ))}
      {ROW_TOP.map((t, r) => (
        <div key={'cap' + r} style={centerText({ left: 530, top: t + PLOT_H + 70, fontFamily: SERIF, fontSize: 23 })}>
          {ROW_CAPTIONS[r]}
        </div>
      ))}
    </div>
  );
}
